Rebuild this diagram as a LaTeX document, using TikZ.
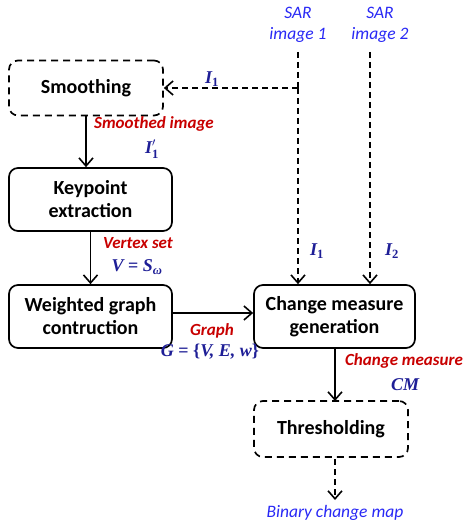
\documentclass[tikz,border=0pt]{standalone}
\usepackage{amsmath}
\usepackage{fontspec}
\setmainfont{Carlito}
\newfontfamily\mfont{Liberation Serif}
\usetikzlibrary{arrows.meta}
\definecolor{sarblue}{RGB}{40,40,245}
\definecolor{mathblue}{RGB}{30,30,150}
\definecolor{lblred}{RGB}{200,0,0}
\newcommand\up[1]{\text{\upshape #1}}
\tikzset{
  procbox/.style={draw, line width=1.7pt, rounded corners=9pt, align=center, font=\fontsize{20}{23}\selectfont\bfseries},
  dashbox/.style={procbox, dash pattern=on 7pt off 5pt},
  conn/.style={line width=1.8pt, -{Straight Barb[length=8pt,width=14pt,line width=1.6pt]}},
  dconn/.style={conn, dash pattern=on 6pt off 4pt},
  dline/.style={line width=1.8pt, dash pattern=on 6pt off 4pt},
  redlbl/.style={text=lblred, font=\fontsize{17}{19}\selectfont\bfseries\itshape},
  bluelbl/.style={text=sarblue, font=\fontsize{17.5}{21}\selectfont\itshape, align=center},
  mathlbl/.style={text=mathblue, font=\mfont\fontsize{18}{20}\selectfont\bfseries\itshape},
}
\begin{document}
\begin{tikzpicture}[x=1pt,y=-1pt]
\useasboundingbox (0,0) rectangle (466,521);
\node[dashbox, minimum width=154pt, minimum height=55pt] (smooth) at (86,88) {Smoothing};
\node[procbox, minimum width=163pt, minimum height=63pt] (key) at (90.5,199.5) {Keypoint\\extraction};
\node[procbox, minimum width=163pt, minimum height=63pt] (wgc) at (90.5,316.5) {Weighted graph\\contruction};
\node[procbox, minimum width=161pt, minimum height=63pt] (cmg) at (334.5,316.5) {Change measure\\generation};
\node[dashbox, minimum width=154pt, minimum height=56pt] (thr) at (331,429) {Thresholding};

\node[bluelbl] (sar1) at (298,25) {SAR\\image 1};
\node[bluelbl] (sar2) at (380,25) {SAR\\image 2};
\coordinate (s1top) at (298,52);
\coordinate (s2top) at (370,52);
\coordinate (branch) at (298,88);
\coordinate (out) at (335,500);
\node[bluelbl] (bcm) at (335,513) {Binary change map};

\draw[dline] (s1top) -- (branch);
\draw[dconn] (branch) -- (smooth.east);
\draw[dconn] (branch) -- (branch |- cmg.north);
\draw[dconn] (s2top) -- (s2top |- cmg.north);
\draw[conn] (smooth.south) -- (smooth.south |- key.north);
\draw[conn] (key.south) -- (wgc.north);
\draw[conn] (wgc.east |- 0,313) -- (cmg.west |- 0,313);
\draw[conn] (335,348) -- (335,401);
\draw[dconn] (335,459) -- (out);

\node[mathlbl] (i1a) at (212,79) {$\text{I}_{\up{1}}$};
\node[redlbl] (sml) at (154,124) {Smoothed image};
\node[mathlbl] (i1p) at (152,149) {$\text{I}_{\up{1}}^{\prime}$};
\node[redlbl] (vsl) at (138,243) {Vertex set};
\node[mathlbl] (vsm) at (137,267) {V \up{=} S$_{\text{ω}}$};
\node[mathlbl] (i1b) at (317,251) {$\text{I}_{\up{1}}$};
\node[mathlbl] (i2b) at (392,251) {$\text{I}_{\up{2}}$};
\node[redlbl] (grl) at (212,331) {Graph};
\node[mathlbl] (grm) at (210,352) {G \up{=} \up{\{}V, E, w\up{\}}};
\node[redlbl] (cml) at (404,361) {Change measure};
\node[mathlbl] (cmm) at (405,385) {CM};
\end{tikzpicture}
\end{document}
